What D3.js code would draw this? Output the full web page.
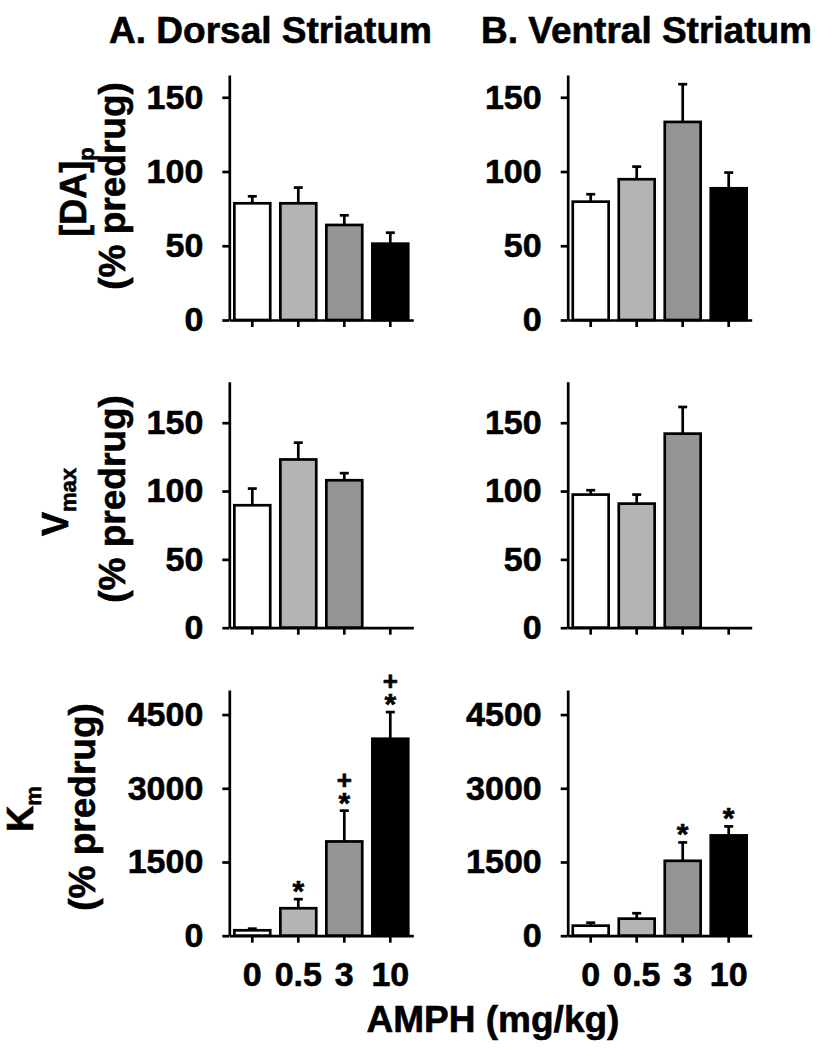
<!DOCTYPE html>
<html><head><meta charset="utf-8">
<script src="https://cdn.jsdelivr.net/npm/d3@7"></script>
<style>
body{margin:0;background:#fff;}
svg text{font-family:"Liberation Sans",Arial,Helvetica,sans-serif;font-weight:bold;fill:#000;stroke:#000;stroke-width:0.6px;}
</style></head><body>
<script>
// ---------- data ----------
const doses = ["0", "0.5", "3", "10"];
const barFills = ["#ffffff", "#b4b4b4", "#959595", "#000000"];
const regionTitles = ["A. Dorsal Striatum", "B. Ventral Striatum"];
const xAxisTitle = "AMPH (mg/kg)";
const yLabelMain = ["[DA]", "V", "K"];
const yLabelSub = ["p", "max", "m"];
const yLabelUnit = "(% predrug)";

const dorsalDA = [78.6, 78.6, 64.0, 51.4];
const dorsalDAErr = [4.7, 10.6, 6.5, 7.4];
const ventralDA = [79.7, 94.8, 133.4, 88.7];
const ventralDAErr = [5.0, 8.5, 25.4, 10.6];
const dorsalVmax = [89.6, 123.1, 107.9, null];
const dorsalVmaxErr = [12.2, 12.3, 5.2, null];
const ventralVmax = [97.4, 90.8, 142.0, null];
const ventralVmaxErr = [3.2, 6.6, 19.5, null];
const dorsalKm = [110, 559, 1918, 4008];
const dorsalKmErr = [33, 184, 627, 543];
const ventralKm = [204, 347, 1524, 2041];
const ventralKmErr = [61, 110, 374, 183];
const dorsalKmSig = ["", "*", "*+", "*+"];
const ventralKmSig = ["", "", "*", "*"];
const noSig = ["", "", "", ""];

const ticksPct = [0, 50, 100, 150];
const ticksKm = [0, 1500, 3000, 4500];
const yMaxByRow = [165, 180, 5000];

// ---------- layout ----------
const W = 825, H = 1050;
const colAxisX = [229.3, 567.7];
const plotW = 184;
const rowTop = [75, 381.7, 690];
const rowBase = [320, 627.7, 935.7];
const FS = 34;     // tick font
const SW = 2.7;    // stroke width

const rowsData = [
  { vals: [dorsalDA, ventralDA], errs: [dorsalDAErr, ventralDAErr], sig: [noSig, noSig], ticks: ticksPct },
  { vals: [dorsalVmax, ventralVmax], errs: [dorsalVmaxErr, ventralVmaxErr], sig: [noSig, noSig], ticks: ticksPct },
  { vals: [dorsalKm, ventralKm], errs: [dorsalKmErr, ventralKmErr], sig: [dorsalKmSig, ventralKmSig], ticks: ticksKm }
];

const svg = d3.select("body").append("svg").attr("width", W).attr("height", H);

rowsData.forEach((row, r) => {
  const y = d3.scaleLinear().domain([0, yMaxByRow[r]]).range([rowBase[r], rowTop[r]]);
  [0, 1].forEach(c => {
    const x = d3.scaleBand().domain(doses).range([colAxisX[c], colAxisX[c] + plotW])
      .paddingInner(0.22).paddingOuter(0.11);
    const g = svg.append("g");
    const records = doses.map((d, i) => ({ dose: d, v: row.vals[c][i], e: row.errs[c][i], s: row.sig[c][i], fill: barFills[i] }))
      .filter(d => d.v != null);

    // error bars (drawn under bars)
    const eg = g.append("g").attr("stroke", "#000").attr("stroke-width", SW);
    eg.selectAll("line.v").data(records).join("line").attr("class", "v")
      .attr("x1", d => x(d.dose) + x.bandwidth() / 2).attr("x2", d => x(d.dose) + x.bandwidth() / 2)
      .attr("y1", d => y(d.v)).attr("y2", d => y(d.v + d.e));
    eg.selectAll("line.c").data(records).join("line").attr("class", "c")
      .attr("x1", d => x(d.dose) + x.bandwidth() / 2 - 4.5).attr("x2", d => x(d.dose) + x.bandwidth() / 2 + 4.5)
      .attr("y1", d => y(d.v + d.e)).attr("y2", d => y(d.v + d.e));

    g.selectAll("rect").data(records).join("rect")
      .attr("x", d => x(d.dose)).attr("width", x.bandwidth())
      .attr("y", d => y(d.v)).attr("height", d => y(0) - y(d.v))
      .attr("fill", d => d.fill).attr("stroke", "#000").attr("stroke-width", SW);

    // significance marks (one text element per bar, stacked tspans)
    records.filter(d => d.s).forEach(d => {
      const cx = x(d.dose) + x.bandwidth() / 2;
      const top = y(d.v + d.e);
      const t = g.append("text").attr("text-anchor", "middle");
      if (d.s.includes("+")) {
        t.append("tspan").attr("x", cx).attr("y", top - 22).attr("font-size", 26).text("+");
      }
      t.append("tspan").attr("x", cx).attr("y", top + 2).attr("font-size", 30).text("*");
    });

    // y axis
    const ya = svg.append("g").attr("transform", `translate(${colAxisX[c]},0)`)
      .call(d3.axisLeft(y).tickValues(row.ticks).tickSize(7).tickPadding(19).tickSizeOuter(0).tickFormat(d3.format("d")));
    // x axis
    const xa = svg.append("g").attr("transform", `translate(0,${rowBase[r]})`)
      .call(d3.axisBottom(x).tickSize(7).tickSizeOuter(0).tickPadding(19)
        .tickFormat(r === 2 ? (d => d) : () => ""));
    [ya, xa].forEach(a => {
      a.attr("font-size", null).attr("font-family", null);
      a.selectAll("path,line").attr("stroke", "#000").attr("stroke-width", SW);
      a.selectAll("text").attr("font-size", FS).attr("fill", "#000");
    });
  });
});

// column titles
[270.5, 646.5].forEach((cx, i) => {
  svg.append("text").attr("x", cx).attr("y", 43).attr("text-anchor", "middle")
    .attr("font-size", 37).text(regionTitles[i]);
});

// x axis title
svg.append("text").attr("x", 493).attr("y", 1032).attr("text-anchor", "middle")
  .attr("font-size", 37).text(xAxisTitle);

// y labels
const lab1X = [86, 68, 33];
const lab2X = [125, 125, 95];
const lab1Y = [192, 502, 809];
const lab2Y = [186, 499, 807];
yLabelMain.forEach((m, r) => {
  const t = svg.append("text").attr("transform", `translate(${lab1X[r]},${lab1Y[r]}) rotate(-90)`)
    .attr("text-anchor", "middle").attr("font-size", 36);
  t.append("tspan").text(m);
  t.append("tspan").attr("font-size", 22).attr("dy", 8).text(yLabelSub[r]);
  svg.append("text").attr("transform", `translate(${lab2X[r]},${lab2Y[r]}) rotate(-90)`)
    .attr("text-anchor", "middle").attr("font-size", 37).text(yLabelUnit);
});
</script>
</body></html>
